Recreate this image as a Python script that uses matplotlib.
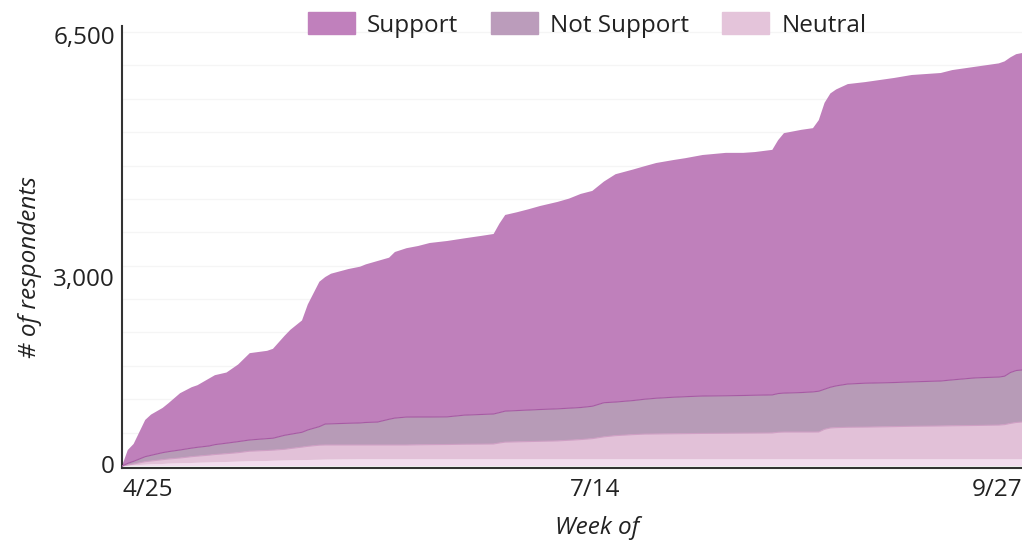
import numpy as np
import matplotlib
matplotlib.use('Agg')
import matplotlib.pyplot as plt
from matplotlib.patches import Patch
from matplotlib.transforms import ScaledTranslation

plt.rcParams['font.family'] = ['Open Sans', 'DejaVu Sans']

# days since the start of the survey window
days = [0, 1, 2, 4, 5, 7, 8, 10, 12, 13, 15, 16, 18, 20, 22, 25, 26, 28, 29, 31,
        32, 34, 35, 36, 39, 41, 42, 44, 46, 47, 49, 51, 53, 56, 59, 62, 64, 65, 66, 68,
        70, 72, 75, 77, 79, 81, 83, 85, 88, 90, 92, 95, 97, 100, 104, 107, 109, 112, 113, 114,
        117, 119, 120, 121, 122, 123, 125, 128, 133, 136, 141, 143, 147, 151, 152, 153, 154, 155]

# unlabeled bottom band
other = [0, 5, 10, 20, 25, 30, 35, 40, 45, 48, 52, 55, 60, 65, 70, 75, 78, 82, 84, 88,
         90, 93, 95, 96, 98, 100, 100, 100, 100, 100, 100, 100, 100, 100, 100, 100, 100, 100, 100, 100,
         100, 100, 100, 100, 100, 100, 100, 100, 100, 100, 100, 100, 100, 100, 100, 100, 100, 100, 100, 100,
         100, 100, 100, 100, 100, 100, 100, 100, 100, 100, 100, 100, 100, 100, 100, 100, 100, 100]

neutral = [0, 10, 20, 45, 50, 65, 70, 80, 95, 100, 111, 117, 125, 135, 152, 158, 160, 168, 178, 195,
           205, 219, 220, 219, 217, 215, 215, 215, 215, 215, 215, 218, 220, 222, 226, 228, 230, 245, 258, 262,
           266, 270, 276, 286, 296, 310, 337, 355, 370, 378, 380, 383, 385, 388, 390, 392, 393, 395, 405, 409,
           409, 409, 410, 450, 470, 475, 480, 483, 490, 495, 500, 503, 507, 513, 520, 538, 552, 559]

not_support = [0, 25, 40, 75, 85, 105, 110, 120, 128, 132, 137, 148, 157, 165, 168, 177, 178, 210, 213, 222,
               245, 278, 314, 317, 325, 330, 337, 343, 385, 403, 418, 416, 414, 414, 436, 444, 449, 455, 464, 468,
               472, 476, 480, 480, 480, 485, 511, 503, 510, 522, 535, 547, 553, 560, 562, 564, 567, 570, 580, 583,
               591, 601, 610, 600, 610, 625, 648, 657, 660, 665, 673, 687, 713, 719, 725, 762, 778, 779]

support = [0, 200, 260, 550, 610, 670, 725, 850, 912, 930, 1010, 1040, 1058, 1155, 1300, 1315, 1339, 1490, 1565, 1675,
           1880, 2170, 2201, 2248, 2310, 2340, 2368, 2412, 2420, 2487, 2529, 2561, 2606, 2634, 2648, 2676, 2696, 2830, 2938, 2970,
           3007, 3048, 3099, 3139, 3199, 3225, 3312, 3412, 3460, 3490, 3523, 3553, 3572, 3610, 3638, 3634, 3642, 3670, 3795, 3893,
           3935, 3950, 4060, 4290, 4400, 4440, 4492, 4510, 4562, 4596, 4613, 4640, 4660, 4698, 4715, 4720, 4738, 4747]

tick_pos = [4.5, 81.5, 150.7]
tick_labels = ['4/25', '7/14', '9/27']

c_other = '#f2dcee'
c_neutral = '#e2c1d8'
c_not = '#b79bb7'
c_support = '#bf80bb'

fig = plt.figure(figsize=(10.22, 5.43), dpi=100)
ax = fig.add_axes([122/1022, 75/543, 900/1022, 442/543])

ax.stackplot(days, other, neutral, not_support, support,
             colors=[c_other, c_neutral, c_not, c_support], linewidth=0, zorder=2)

# thin edges on the band boundaries
cum = np.cumsum([other, neutral, not_support], axis=0)
ax.plot(days, cum[1], color='#cf9fc4', lw=0.8, zorder=3)
ax.plot(days, cum[2], color='#a65aa3', lw=0.8, zorder=3)

ax.set_xlim(0, 155)
ax.set_ylim(-30, 6590)

ax.set_yticks([0, 3000, 6500])
ax.set_yticklabels(['0', '3,000', '6,500'])
ax.set_yticks(np.arange(0, 7000, 500), minor=True)
ax.grid(which='both', axis='y', color='#f5f5f5', lw=1, zorder=0)
ax.set_axisbelow(True)
ax.set_xticks(tick_pos)
ax.set_xticklabels(tick_labels)
ax.tick_params(which='both', length=0, labelsize=17.5, colors='#222222')
ax.tick_params(axis='y', pad=5)
ax.tick_params(axis='x', pad=7)

# nudge the y labels to where the reference sets them
for lbl, dy in zip(ax.get_yticklabels(), [2, -11, -3]):
    lbl.set_transform(lbl.get_transform() + ScaledTranslation(0, dy / 100, fig.dpi_scale_trans))

for side in ['top', 'right']:
    ax.spines[side].set_visible(False)
for side in ['left', 'bottom']:
    ax.spines[side].set_color('#333333')
    ax.spines[side].set_linewidth(1.5)

fig.text(30/1022, 1 - 267/543, '# of respondents', rotation=90, style='italic',
         fontsize=17.5, ha='center', va='center', color='#222222')
fig.text(597/1022, 1 - 528/543, 'Week of', style='italic',
         fontsize=17.5, ha='center', va='center', color='#222222')

handles = [Patch(color='#c080bc', label='Support'),
           Patch(color='#bb9cbb', label='Not Support'),
           Patch(color='#e4c4da', label='Neutral')]
fig.legend(handles=handles, loc='center', bbox_to_anchor=(587/1022, 1 - 25/543),
           ncol=3, frameon=False, fontsize=17.5, handlelength=1.93, handleheight=1.0,
           handletextpad=0.5, columnspacing=1.36, borderpad=0, labelcolor='#222222')

fig.savefig('out.png', dpi=100)
